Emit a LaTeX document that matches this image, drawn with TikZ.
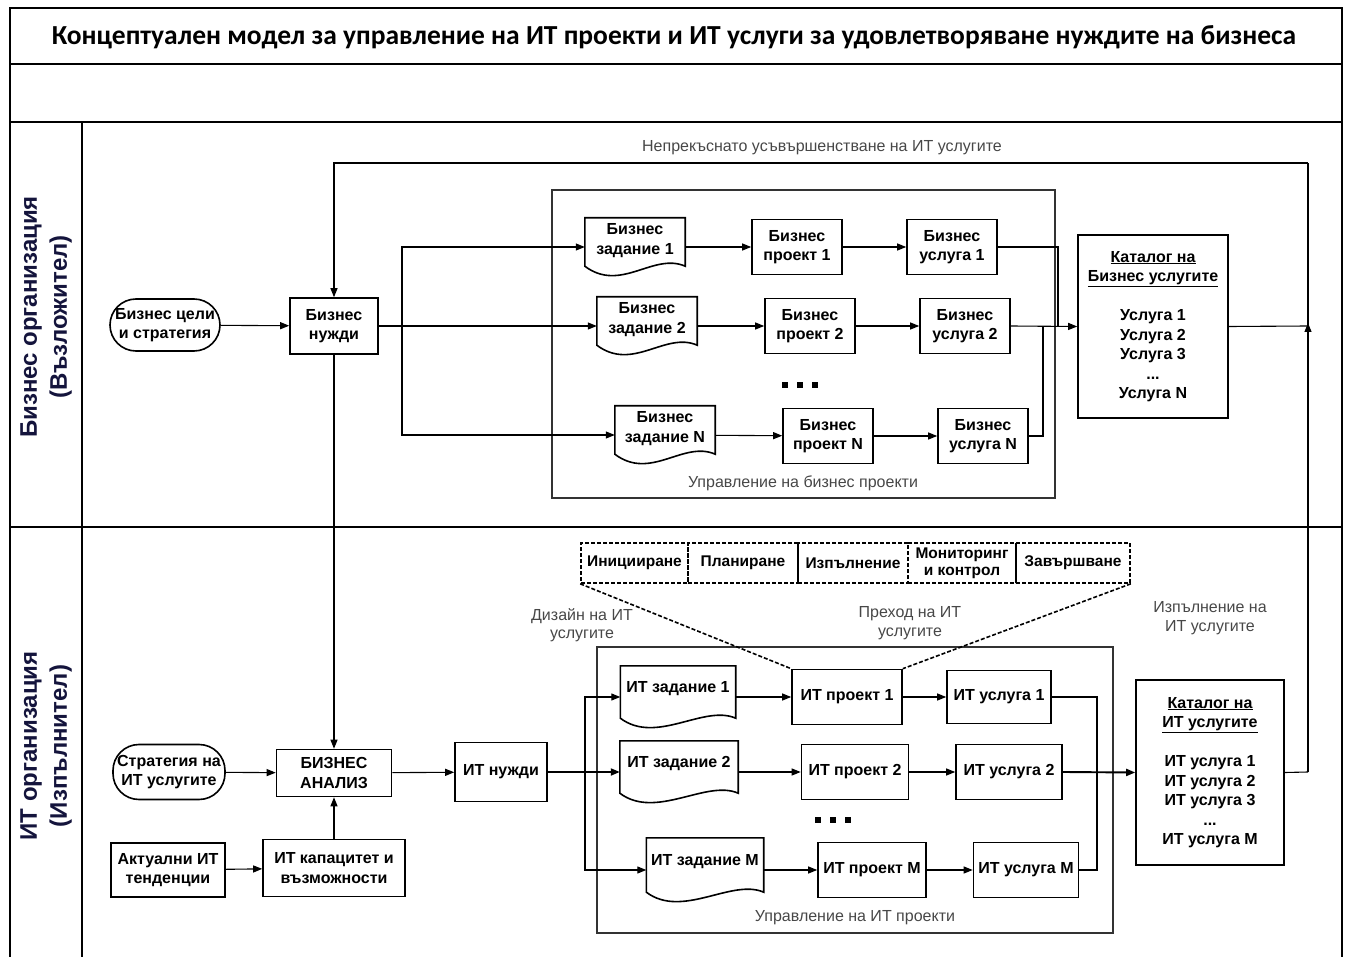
\documentclass[tikz,border=0pt]{standalone}
\usepackage{fontspec}
\setmainfont{Liberation Sans}
\newfontfamily\titlefont{Carlito}
\usetikzlibrary{arrows.meta,calc}
\newcommand\bxf{\bfseries\fontsize{16}{19.5}\selectfont}
\newcommand\lbf{\fontsize{16}{18.5}\selectfont}
\tikzset{
  box/.style={draw, line width=1.6pt, fill=white, font=\bxf, align=center, inner sep=1pt},
  stad/.style={box, rounded corners=26pt},
  docn/.style={font=\bxf, align=center, inner sep=1pt},
  phase/.style={draw, dash pattern=on 4pt off 2pt, line width=1.6pt, font=\bfseries\fontsize{15.5}{17}\selectfont, align=center, inner sep=0pt, minimum height=40pt},
  lbl/.style={font=\lbf, text=black!72, align=center, inner sep=1pt},
  arr/.style={-{Triangle[length=9pt,width=7pt]}, line width=1.1pt},
  con/.style={line width=1.1pt},
  thk/.style={line width=1.9pt},
  frame/.style={line width=2.2pt},
  mgmt/.style={draw=black!80, line width=1.2pt},
  dots/.style={inner sep=0pt},
  lane/.style={rotate=90, align=center, font=\bfseries\fontsize{24}{30}\selectfont, text={rgb,255:red,20;green,20;blue,60}},
  cat/.style={box, font=\bfseries\fontsize{16}{19.5}\selectfont},
  phl/.style={dash pattern=on 4pt off 2pt, line width=1.6pt}
}
\begin{document}
\begin{tikzpicture}[x=1pt,y=-1pt]
\useasboundingbox (0,0) rectangle (1347,957);
% frame
\draw[frame] (10,957) -- (10,8) -- (1342,8) -- (1342,957);
\draw[frame] (10,64) -- (1342,64);
\draw[frame] (10,122) -- (1342,122);
\draw[frame] (10,527) -- (1342,527);
\draw[frame] (82,122) -- (82,957);
\node (title) at (674,37) {\titlefont\bfseries\fontsize{27.5}{30}\selectfont Концептуален модел за управление на ИТ проекти и ИТ услуги за удовлетворяване нуждите на бизнеса};
\node[lane] (lane1) at (46,317) {Бизнес организация\\(Възложител)};
\node[lane] (lane2) at (46,746) {ИТ организация\\(Изпълнител)};

% management boxes
\draw[mgmt] (552,190) rectangle (1055,498);
\node[lbl] (bmlbl) at (803,483) {Управление на бизнес проекти};
\draw[mgmt] (597,647) rectangle (1113,933);
\node[lbl] (imlbl) at (855,918) {Управление на ИТ проекти};

% business lane nodes
\node[stad, minimum width=110pt, minimum height=52pt] (goal) at (165,325) {Бизнес цели\\и стратегия};
\node[box, minimum width=88pt, minimum height=56pt] (bneeds) at (334,326) {Бизнес\\нужди};
\node[docn, minimum width=100pt, minimum height=58pt, text depth=16pt] (bz1) at (635,247) {Бизнес\\задание 1};
\node[box, minimum width=90pt, minimum height=55pt] (bp1) at (797,247) {Бизнес\\проект 1};
\node[box, minimum width=90pt, minimum height=55pt] (bs1) at (952,247) {Бизнес\\услуга 1};
\node[docn, minimum width=100pt, minimum height=58pt, text depth=16pt] (bz2) at (647,326) {Бизнес\\задание 2};
\node[box, minimum width=90pt, minimum height=55pt] (bp2) at (810,326) {Бизнес\\проект 2};
\node[box, minimum width=90pt, minimum height=55pt] (bs2) at (965,326) {Бизнес\\услуга 2};
\node[docn, minimum width=100pt, minimum height=58pt, text depth=16pt] (bzN) at (665,435) {Бизнес\\задание N};
\node[box, minimum width=90pt, minimum height=55pt] (bpN) at (828,436) {Бизнес\\проект N};
\node[box, minimum width=90pt, minimum height=55pt] (bsN) at (983,436) {Бизнес\\услуга N};
\node[dots] (bdots) at (800,385) {\rule{6pt}{6pt}\hspace{9pt}\rule{6pt}{6pt}\hspace{9pt}\rule{6pt}{6pt}};
\node[cat, minimum width=150pt, minimum height=183pt] (bcat) at (1153,326.5) {\underline{Каталог на}\\\underline{Бизнес услугите}\\ \\Услуга 1\\Услуга 2\\Услуга 3\\...\\Услуга N};

% IT lane nodes
\node[stad, minimum width=112pt, minimum height=55pt] (istrat) at (169,772) {Стратегия на\\ИТ услугите};
\node[box, minimum width=115pt, minimum height=47pt] (ban) at (334,773) {БИЗНЕС\\АНАЛИЗ};
\node[box, minimum width=92pt, minimum height=59pt] (ineeds) at (501,772) {ИТ нужди};
\node[box, minimum width=114pt, minimum height=54pt] (itrend) at (168,870) {Актуални ИТ\\тенденции};
\node[box, minimum width=142pt, minimum height=57pt] (icap) at (334,868) {ИТ капацитет и\\възможности};
\node[docn, minimum width=115pt, minimum height=62pt, text depth=20pt] (iz1) at (678,697) {ИТ задание 1};
\node[box, minimum width=110pt, minimum height=55pt] (ip1) at (847,697) {ИТ проект 1};
\node[box, minimum width=104pt, minimum height=53pt] (is1) at (999,697) {ИТ услуга 1};
\node[docn, minimum width=118pt, minimum height=62pt, text depth=20pt] (iz2) at (679,772) {ИТ задание 2};
\node[box, minimum width=107pt, minimum height=55pt] (ip2) at (855,772) {ИТ проект 2};
\node[box, minimum width=106pt, minimum height=55pt] (is2) at (1009,772) {ИТ услуга 2};
\node[docn, minimum width=117pt, minimum height=64pt, text depth=20pt] (izM) at (705,870) {ИТ задание М};
\node[box, minimum width=108pt, minimum height=55pt] (ipM) at (872,870) {ИТ проект М};
\node[box, minimum width=105pt, minimum height=55pt] (isM) at (1026,870) {ИТ услуга М};
\node[dots] (idots) at (833,820) {\rule{6pt}{6pt}\hspace{9pt}\rule{6pt}{6pt}\hspace{9pt}\rule{6pt}{6pt}};
\node[cat, minimum width=148pt, minimum height=185pt] (icat) at (1210,772.5) {\underline{Каталог на}\\\underline{ИТ услугите}\\ \\ИТ услуга 1\\ИТ услуга 2\\ИТ услуга 3\\...\\ИТ услуга М};

% document outlines
\foreach \n in {bz1,bz2,bzN,iz1,iz2,izM}{
  \draw[line width=1.6pt, fill=white] (\n.north west) -- (\n.north east) -- ($(\n.south east)+(0,-10)$)
    .. controls ($(\n.south east)+(-32,-24)$) and ($(\n.south west)+(36,17)$) .. ($(\n.south west)+(0,-10)$) -- cycle;
}
% doc texts on top of outlines
\foreach \n/\t in {bz1/{Бизнес\\задание 1},bz2/{Бизнес\\задание 2},bzN/{Бизнес\\задание N}}{
  \node[docn, text depth=16pt, minimum height=58pt] at (\n) {\t};
}
\foreach \n/\t in {iz1/{ИТ задание 1},iz2/{ИТ задание 2},izM/{ИТ задание М}}{
  \node[docn, text depth=20pt, minimum height=62pt] at (\n) {\t};
}

% phases
\node[phase, minimum width=107pt] (ph1) at (634.5,563) {Иницииране};
\node[phase, minimum width=110pt] (ph2) at (743,563) {Планиране};
\node[phase, minimum width=110pt] (ph3) at (853,563) {Изпълнение};
\node[phase, minimum width=108pt] (ph4) at (962,563) {Мониторинг\\и контрол};
\node[phase, minimum width=114pt] (ph5) at (1073,563) {Завършване};
\draw[phl] (ph1.south west) -- (ip1.north west);
\draw[phl] (ph5.south east) -- (ip1.north east);

% labels
\node[lbl] (lcont) at (822,148) {Непрекъснато усъвършенстване на ИТ услугите};
\node[lbl] (ldes) at (582,625) {Дизайн на ИТ\\услугите};
\node[lbl] (ltr) at (910,623) {Преход на ИТ\\услугите};
\node[lbl] (lex) at (1210,618) {Изпълнение на\\ИТ услугите};

% coordinates
\coordinate (bj) at (402,326);
\coordinate (bm1) at (1058,326);
\coordinate (bm2) at (1043,326);
\coordinate (rv) at (1308,326);
\coordinate (rc) at (1308,772);
\coordinate (tr) at (1308,163);
\coordinate (ij) at (585,772);
\coordinate (im1) at (1097,772);

% business connectors
\draw[arr] (goal) -- (bneeds);
\draw[arr] (bneeds.east) -- (bz2.west);
\draw[arr] (bj) |- (bz1.west);
\draw[arr] (bj) |- (bzN.west);
\draw[arr] (bz1) -- (bp1);
\draw[arr] (bp1) -- (bs1);
\draw[arr] (bz2) -- (bp2);
\draw[arr] (bp2) -- (bs2);
\draw[arr] (bzN) -- (bpN);
\draw[arr] (bpN) -- (bsN);
\draw[con] (bs1.east) -| (bm1);
\draw[con] (bsN.east) -| (bm2);
\draw[arr] (bs2.east) -- (bcat.west);
\draw[con] (bcat.east) -- (rv);
\draw[arr] (bneeds.south) -- (ban.north);
\draw[arr] (tr) -| (bneeds.north);
\draw[con] (rv) -- (tr);
\draw[arr] (rc) -- ($(rv)+(0,-3)$);

% IT connectors
\draw[arr] (istrat) -- (ban);
\draw[arr] (itrend) -- (icap);
\draw[arr] (icap) -- (ban);
\draw[arr] (ban) -- (ineeds);
\draw[arr, thk] (ineeds.east) -- (iz2.west);
\draw[arr] (ij) |- (iz1.west);
\draw[arr] (ij) |- (izM.west);
\draw[arr] (iz1) -- (ip1);
\draw[arr] (ip1) -- (is1);
\draw[arr] (iz2) -- (ip2);
\draw[arr] (ip2) -- (is2);
\draw[arr] (izM) -- (ipM);
\draw[arr] (ipM) -- (isM);
\draw[con] (is1.east) -| (im1);
\draw[con] (isM.east) -| (im1);
\draw[arr, thk] (is2.east) -- (icat.west);
\draw[con] (icat.east) -- (rc);
\end{tikzpicture}
\end{document}
